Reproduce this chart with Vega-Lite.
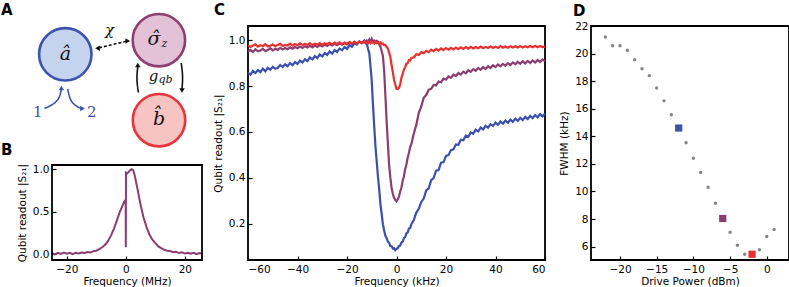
{
  "$schema": "https://vega.github.io/schema/vega-lite/v6.json",
  "padding": {"left": 0, "top": 1, "right": 0, "bottom": 0},
  "autosize": {"type": "pad"},
  "bounds": "flush",
  "spacing": 46,
  "resolve": {"scale": {"color": "independent", "fill": "independent", "stroke": "independent", "shape": "independent", "strokeDash": "independent"}},
  "hconcat": [
    {
      "width": 150,
      "height": 234,
      "view": {"stroke": null},
      "resolve": {"scale": {"x": "independent", "y": "independent"}, "axis": {"x": "independent", "y": "independent"}},
      "layer": [
        {
          "encoding": {
            "x": {"field": "f", "type": "quantitative", "scale": {"domain": [-25, 25.8], "nice": false, "zero": false}, "axis": {"values": [-20, 0, 20], "title": "Frequency (MHz)"}},
            "y": {"field": "v", "type": "quantitative", "scale": {"domain": [-0.07, 1.05], "range": [234, 139], "nice": false, "zero": false}, "axis": {"values": [0, 0.5, 1], "format": ".1f", "title": "Qubit readout |S₂₁|", "titleY": 186.5}}
          },
          "layer": [
            {
              "data": {"values": [
                {"f": -25, "v": 0.012}, {"f": -24, "v": -0.004}, {"f": -23, "v": 0.015}, {"f": -22, "v": 0.002}, {"f": -21, "v": 0.018},
                {"f": -20, "v": 0.005}, {"f": -19, "v": 0.014}, {"f": -18, "v": -0.002}, {"f": -17, "v": 0.016}, {"f": -16, "v": 0.008},
                {"f": -15, "v": 0.019}, {"f": -14, "v": 0.012}, {"f": -13, "v": 0.025}, {"f": -12, "v": 0.02}, {"f": -11, "v": 0.034},
                {"f": -10, "v": 0.04}, {"f": -9, "v": 0.058}, {"f": -8, "v": 0.08}, {"f": -7, "v": 0.11}, {"f": -6, "v": 0.155},
                {"f": -5, "v": 0.22}, {"f": -4, "v": 0.30}, {"f": -3, "v": 0.40}, {"f": -2, "v": 0.50}, {"f": -1, "v": 0.58},
                {"f": -0.5, "v": 0.62}, {"f": -0.05, "v": 0.64}, {"f": 0, "v": 0.08}, {"f": 0.05, "v": 0.96}, {"f": 0.5, "v": 0.95},
                {"f": 1, "v": 0.97}, {"f": 1.5, "v": 0.99}, {"f": 2, "v": 1.0}, {"f": 2.5, "v": 0.99}, {"f": 3, "v": 0.93},
                {"f": 4, "v": 0.76}, {"f": 5, "v": 0.58}, {"f": 6, "v": 0.43}, {"f": 7, "v": 0.32}, {"f": 8, "v": 0.23},
                {"f": 9, "v": 0.17}, {"f": 10, "v": 0.13}, {"f": 11, "v": 0.09}, {"f": 12, "v": 0.07}, {"f": 13, "v": 0.05},
                {"f": 14, "v": 0.04}, {"f": 15, "v": 0.035}, {"f": 16, "v": 0.022}, {"f": 17, "v": 0.028}, {"f": 18, "v": 0.012},
                {"f": 19, "v": 0.02}, {"f": 20, "v": 0.006}, {"f": 21, "v": 0.015}, {"f": 22, "v": 0.003}, {"f": 23, "v": 0.014},
                {"f": 24, "v": 0.0}, {"f": 25, "v": 0.012}, {"f": 25.8, "v": 0.005}
              ]},
              "mark": {"type": "line", "color": "#8c3d70", "strokeWidth": 2}
            },
            {
              "data": {"values": [{"f": -25, "f2": 25.8, "v": -0.07, "v2": 1.05}]},
              "mark": {"type": "rect", "filled": false, "stroke": "#000000", "strokeWidth": 1.8},
              "encoding": {"x2": {"field": "f2"}, "y2": {"field": "v2"}}
            }
          ]
        },
        {
          "encoding": {
            "x": {"field": "x", "type": "quantitative", "scale": {"domain": [51, 201], "nice": false, "zero": false}, "axis": null},
            "y": {"field": "y", "type": "quantitative", "scale": {"domain": [25, 259], "reverse": true, "nice": false, "zero": false}, "axis": null}
          },
          "layer": [
            {
              "data": {"values": [
                {"id": "chi", "o": 0, "x": 98, "y": 46.8}, {"id": "chi", "o": 1, "x": 125, "y": 40.3},
                {"id": "up", "o": 0, "x": 137.4, "y": 91.5}, {"id": "up", "o": 1, "x": 135.4, "y": 78}, {"id": "up", "o": 2, "x": 136.8, "y": 65.5},
                {"id": "down", "o": 0, "x": 180.2, "y": 62}, {"id": "down", "o": 1, "x": 182, "y": 75}, {"id": "down", "o": 2, "x": 181, "y": 88},
                {"id": "in", "o": 0, "x": 43.5, "y": 107.5}, {"id": "in", "o": 1, "x": 57.5, "y": 101}, {"id": "in", "o": 2, "x": 60.3, "y": 89},
                {"id": "out", "o": 0, "x": 66.7, "y": 88}, {"id": "out", "o": 1, "x": 69.5, "y": 102}, {"id": "out", "o": 2, "x": 79.5, "y": 107.3}
              ]},
              "mark": {"type": "line", "strokeWidth": 1.6, "interpolate": "basis"},
              "encoding": {
                "detail": {"field": "id"},
                "order": {"field": "o", "type": "quantitative"},
                "color": {"field": "id", "type": "nominal", "scale": {"domain": ["chi", "up", "down", "in", "out"], "range": ["#111111", "#111111", "#111111", "#3c55ab", "#3c55ab"]}, "legend": null},
                "strokeDash": {"field": "id", "type": "nominal", "scale": {"domain": ["chi", "up", "down", "in", "out"], "range": [[3, 2], [1, 0], [1, 0], [1, 0], [1, 0]]}, "legend": null}
              }
            },
            {
              "data": {"values": [
                {"id": "chi", "h": "left", "x": 96.5, "y": 47.2},
                {"id": "chi", "h": "right", "x": 126.8, "y": 39.9},
                {"id": "up", "h": "up", "x": 136.8, "y": 64},
                {"id": "down", "h": "down", "x": 181, "y": 89.5},
                {"id": "in", "h": "up", "x": 60.4, "y": 87},
                {"id": "out", "h": "right", "x": 81.5, "y": 107.5}
              ]},
              "mark": {"type": "point", "filled": true, "size": 30, "opacity": 1},
              "encoding": {
                "color": {"field": "id", "type": "nominal", "legend": null},
                "shape": {"field": "h", "type": "nominal", "scale": {"domain": ["up", "down", "left", "right"], "range": ["triangle-up", "triangle-down", "triangle-left", "triangle-right"]}, "legend": null}
              }
            },
            {
              "data": {"values": [
                {"node": "a", "x": 64.3, "y": 53.3},
                {"node": "sigma", "x": 157.9, "y": 39.2},
                {"node": "b", "x": 158, "y": 119.2}
              ]},
              "mark": {"type": "point", "shape": "circle", "size": 2750, "strokeWidth": 2.6, "opacity": 1, "fillOpacity": 1},
              "encoding": {
                "fill": {"field": "node", "type": "nominal", "scale": {"domain": ["a", "sigma", "b"], "range": ["#c6d3ef", "#e3c1d6", "#f7c3c3"]}, "legend": null},
                "stroke": {"field": "node", "type": "nominal", "scale": {"domain": ["a", "sigma", "b"], "range": ["#3c55ab", "#8d3f6e", "#e8353b"]}, "legend": null}
              }
            },
            {
              "data": {"values": [
                {"t": "â", "x": 64.3, "y": 53},
                {"t": "σ̂", "x": 153, "y": 38},
                {"t": "b̂", "x": 158, "y": 118}
              ]},
              "mark": {"type": "text", "font": "DejaVu Serif", "fontStyle": "italic", "fontSize": 19, "align": "center", "baseline": "middle", "color": "#111111"},
              "encoding": {"text": {"field": "t"}}
            },
            {
              "data": {"values": [
                {"t": "z", "x": 160.5, "y": 45.5},
                {"t": "qb", "x": 157.5, "y": 81.5}
              ]},
              "mark": {"type": "text", "font": "DejaVu Serif", "fontStyle": "italic", "fontSize": 11, "align": "left", "baseline": "alphabetic", "color": "#111111"},
              "encoding": {"text": {"field": "t"}}
            },
            {
              "data": {"values": [
                {"t": "χ", "x": 108.5, "y": 34},
                {"t": "g", "x": 152.5, "y": 79.5}
              ]},
              "mark": {"type": "text", "font": "DejaVu Serif", "fontStyle": "italic", "fontSize": 15, "align": "center", "baseline": "alphabetic", "color": "#111111"},
              "encoding": {"text": {"field": "t"}}
            },
            {
              "data": {"values": [
                {"t": "1", "x": 36.7, "y": 111},
                {"t": "2", "x": 90.7, "y": 111}
              ]},
              "mark": {"type": "text", "font": "DejaVu Serif", "fontSize": 15, "align": "center", "baseline": "middle", "color": "#3c55ab"},
              "encoding": {"text": {"field": "t"}}
            },
            {
              "data": {"values": [{"t": "A", "x": 0, "y": 13.5}, {"t": "B", "x": 0, "y": 154}]},
              "mark": {"type": "text", "font": "DejaVu Sans", "fontWeight": "bold", "fontSize": 15, "align": "left", "baseline": "alphabetic", "color": "#000000"},
              "encoding": {"text": {"field": "t"}}
            }
          ]
        }
      ]
    },
    {
      "width": 297,
      "height": 234,
      "title": {"text": "C", "dx": -34, "offset": 8.5},
      "data": {"values": [
        {"f": -60, "b": 0.858, "p": 0.950, "r": 0.979}, {"f": -59, "b": 0.850, "p": 0.958, "r": 0.971},
        {"f": -58, "b": 0.866, "p": 0.949, "r": 0.977}, {"f": -57, "b": 0.857, "p": 0.961, "r": 0.982},
        {"f": -56, "b": 0.870, "p": 0.952, "r": 0.972}, {"f": -55, "b": 0.861, "p": 0.955, "r": 0.978},
        {"f": -54, "b": 0.876, "p": 0.962, "r": 0.974}, {"f": -53, "b": 0.865, "p": 0.953, "r": 0.983},
        {"f": -52, "b": 0.880, "p": 0.957, "r": 0.973}, {"f": -51, "b": 0.871, "p": 0.965, "r": 0.976},
        {"f": -50, "b": 0.884, "p": 0.956, "r": 0.981}, {"f": -49, "b": 0.876, "p": 0.963, "r": 0.974},
        {"f": -48, "b": 0.879, "p": 0.958, "r": 0.979}, {"f": -47, "b": 0.892, "p": 0.967, "r": 0.984},
        {"f": -46, "b": 0.883, "p": 0.960, "r": 0.975}, {"f": -45, "b": 0.895, "p": 0.966, "r": 0.980},
        {"f": -44, "b": 0.887, "p": 0.961, "r": 0.977}, {"f": -43, "b": 0.900, "p": 0.969, "r": 0.985},
        {"f": -42, "b": 0.891, "p": 0.963, "r": 0.976}, {"f": -41, "b": 0.905, "p": 0.970, "r": 0.983},
        {"f": -40, "b": 0.897, "p": 0.965, "r": 0.978}, {"f": -39, "b": 0.911, "p": 0.972, "r": 0.986},
        {"f": -38, "b": 0.903, "p": 0.966, "r": 0.979}, {"f": -37, "b": 0.917, "p": 0.974, "r": 0.984},
        {"f": -36, "b": 0.909, "p": 0.968, "r": 0.980}, {"f": -35, "b": 0.925, "p": 0.976, "r": 0.987},
        {"f": -34, "b": 0.916, "p": 0.969, "r": 0.979}, {"f": -33, "b": 0.931, "p": 0.977, "r": 0.985},
        {"f": -32, "b": 0.922, "p": 0.971, "r": 0.981}, {"f": -31, "b": 0.938, "p": 0.979, "r": 0.988},
        {"f": -30, "b": 0.929, "p": 0.973, "r": 0.980}, {"f": -29, "b": 0.944, "p": 0.981, "r": 0.987},
        {"f": -28, "b": 0.936, "p": 0.975, "r": 0.983}, {"f": -27, "b": 0.951, "p": 0.983, "r": 0.989},
        {"f": -26, "b": 0.942, "p": 0.977, "r": 0.982}, {"f": -25, "b": 0.957, "p": 0.984, "r": 0.990},
        {"f": -24, "b": 0.949, "p": 0.978, "r": 0.984}, {"f": -23, "b": 0.964, "p": 0.986, "r": 0.991},
        {"f": -22, "b": 0.956, "p": 0.980, "r": 0.983}, {"f": -21, "b": 0.970, "p": 0.988, "r": 0.990},
        {"f": -20, "b": 0.962, "p": 0.982, "r": 0.985}, {"f": -19, "b": 0.978, "p": 0.990, "r": 0.992},
        {"f": -18, "b": 0.971, "p": 0.984, "r": 0.986}, {"f": -17, "b": 0.986, "p": 0.992, "r": 0.993},
        {"f": -16, "b": 0.981, "p": 0.985, "r": 0.986}, {"f": -15, "b": 0.995, "p": 0.994, "r": 0.993},
        {"f": -14, "b": 0.988, "p": 0.988, "r": 0.987}, {"f": -13, "b": 0.999, "p": 0.996, "r": 0.994},
        {"f": -12.5, "b": 0.992, "p": 0.990, "r": 0.987}, {"f": -12, "b": 0.988, "p": 0.998, "r": 0.994},
        {"f": -11.5, "b": 0.962, "p": 0.991, "r": 0.988}, {"f": -11, "b": 0.944, "p": 1.003, "r": 0.993},
        {"f": -10.5, "b": 0.886, "p": 0.992, "r": 0.987}, {"f": -10, "b": 0.823, "p": 1.006, "r": 0.994},
        {"f": -9.5, "b": 0.717, "p": 0.993, "r": 0.990}, {"f": -9, "b": 0.624, "p": 0.998, "r": 0.986},
        {"f": -8.5, "b": 0.537, "p": 0.992, "r": 0.993}, {"f": -8, "b": 0.472, "p": 0.997, "r": 0.988},
        {"f": -7.5, "b": 0.406, "p": 0.994, "r": 0.992}, {"f": -7, "b": 0.352, "p": 0.983, "r": 0.987},
        {"f": -6.5, "b": 0.287, "p": 0.972, "r": 0.991}, {"f": -6, "b": 0.243, "p": 0.953, "r": 0.983},
        {"f": -5.5, "b": 0.198, "p": 0.931, "r": 0.985}, {"f": -5, "b": 0.172, "p": 0.868, "r": 0.978},
        {"f": -4.5, "b": 0.147, "p": 0.762, "r": 0.979}, {"f": -4, "b": 0.138, "p": 0.648, "r": 0.970},
        {"f": -3.5, "b": 0.122, "p": 0.553, "r": 0.965}, {"f": -3, "b": 0.117, "p": 0.458, "r": 0.946},
        {"f": -2.5, "b": 0.103, "p": 0.402, "r": 0.927}, {"f": -2, "b": 0.102, "p": 0.358, "r": 0.893},
        {"f": -1.5, "b": 0.092, "p": 0.332, "r": 0.862}, {"f": -1, "b": 0.093, "p": 0.313, "r": 0.828},
        {"f": -0.5, "b": 0.085, "p": 0.304, "r": 0.807}, {"f": 0, "b": 0.091, "p": 0.298, "r": 0.788},
        {"f": 0.5, "b": 0.093, "p": 0.307, "r": 0.787}, {"f": 1, "b": 0.103, "p": 0.318, "r": 0.792},
        {"f": 1.5, "b": 0.105, "p": 0.342, "r": 0.808}, {"f": 2, "b": 0.118, "p": 0.358, "r": 0.837},
        {"f": 2.5, "b": 0.122, "p": 0.388, "r": 0.853}, {"f": 3, "b": 0.138, "p": 0.407, "r": 0.873},
        {"f": 3.5, "b": 0.142, "p": 0.438, "r": 0.882}, {"f": 4, "b": 0.158, "p": 0.457, "r": 0.898},
        {"f": 4.5, "b": 0.162, "p": 0.488, "r": 0.900}, {"f": 5, "b": 0.179, "p": 0.507, "r": 0.913},
        {"f": 5.5, "b": 0.181, "p": 0.534, "r": 0.912}, {"f": 6, "b": 0.198, "p": 0.547, "r": 0.923},
        {"f": 7, "b": 0.216, "p": 0.594, "r": 0.925}, {"f": 8, "b": 0.249, "p": 0.631, "r": 0.939},
        {"f": 9, "b": 0.265, "p": 0.684, "r": 0.936}, {"f": 10, "b": 0.295, "p": 0.711, "r": 0.948},
        {"f": 11, "b": 0.310, "p": 0.749, "r": 0.943}, {"f": 12, "b": 0.345, "p": 0.761, "r": 0.954},
        {"f": 13, "b": 0.354, "p": 0.784, "r": 0.948}, {"f": 14, "b": 0.390, "p": 0.788, "r": 0.959},
        {"f": 15, "b": 0.399, "p": 0.805, "r": 0.952}, {"f": 16, "b": 0.431, "p": 0.803, "r": 0.962},
        {"f": 17, "b": 0.434, "p": 0.820, "r": 0.955}, {"f": 18, "b": 0.466, "p": 0.817, "r": 0.964},
        {"f": 19, "b": 0.469, "p": 0.833, "r": 0.957}, {"f": 20, "b": 0.496, "p": 0.828, "r": 0.966},
        {"f": 21, "b": 0.499, "p": 0.842, "r": 0.959}, {"f": 22, "b": 0.521, "p": 0.836, "r": 0.967},
        {"f": 23, "b": 0.524, "p": 0.850, "r": 0.960}, {"f": 24, "b": 0.546, "p": 0.844, "r": 0.968},
        {"f": 25, "b": 0.544, "p": 0.857, "r": 0.961}, {"f": 26, "b": 0.566, "p": 0.850, "r": 0.969},
        {"f": 27, "b": 0.564, "p": 0.863, "r": 0.962}, {"f": 28, "b": 0.584, "p": 0.856, "r": 0.970},
        {"f": 29, "b": 0.579, "p": 0.869, "r": 0.963}, {"f": 30, "b": 0.598, "p": 0.862, "r": 0.971},
        {"f": 31, "b": 0.592, "p": 0.874, "r": 0.964}, {"f": 32, "b": 0.610, "p": 0.867, "r": 0.970},
        {"f": 33, "b": 0.602, "p": 0.879, "r": 0.965}, {"f": 34, "b": 0.619, "p": 0.871, "r": 0.972},
        {"f": 35, "b": 0.611, "p": 0.883, "r": 0.965}, {"f": 36, "b": 0.627, "p": 0.875, "r": 0.971},
        {"f": 37, "b": 0.619, "p": 0.887, "r": 0.966}, {"f": 38, "b": 0.634, "p": 0.879, "r": 0.973},
        {"f": 39, "b": 0.626, "p": 0.891, "r": 0.966}, {"f": 40, "b": 0.641, "p": 0.883, "r": 0.972},
        {"f": 41, "b": 0.631, "p": 0.894, "r": 0.966}, {"f": 42, "b": 0.646, "p": 0.886, "r": 0.974},
        {"f": 43, "b": 0.636, "p": 0.897, "r": 0.967}, {"f": 44, "b": 0.650, "p": 0.889, "r": 0.973},
        {"f": 45, "b": 0.640, "p": 0.900, "r": 0.967}, {"f": 46, "b": 0.654, "p": 0.892, "r": 0.974},
        {"f": 47, "b": 0.644, "p": 0.903, "r": 0.968}, {"f": 48, "b": 0.658, "p": 0.895, "r": 0.974},
        {"f": 49, "b": 0.648, "p": 0.906, "r": 0.968}, {"f": 50, "b": 0.662, "p": 0.897, "r": 0.975},
        {"f": 51, "b": 0.652, "p": 0.908, "r": 0.968}, {"f": 52, "b": 0.666, "p": 0.899, "r": 0.974},
        {"f": 53, "b": 0.656, "p": 0.910, "r": 0.969}, {"f": 54, "b": 0.670, "p": 0.901, "r": 0.975},
        {"f": 55, "b": 0.660, "p": 0.912, "r": 0.969}, {"f": 56, "b": 0.674, "p": 0.903, "r": 0.976},
        {"f": 57, "b": 0.664, "p": 0.914, "r": 0.969}, {"f": 58, "b": 0.678, "p": 0.905, "r": 0.975},
        {"f": 59, "b": 0.668, "p": 0.916, "r": 0.970}, {"f": 60, "b": 0.680, "p": 0.909, "r": 0.972}
      ]},
      "transform": [{"fold": ["b", "p", "r"], "as": ["series", "v"]}],
      "mark": {"type": "line", "strokeWidth": 2.2},
      "encoding": {
        "x": {"field": "f", "type": "quantitative", "scale": {"domain": [-60, 60], "nice": false, "zero": false}, "axis": {"values": [-60, -40, -20, 0, 20, 40, 60], "title": "Frequency (kHz)"}},
        "y": {"field": "v", "type": "quantitative", "scale": {"domain": [0.042, 1.062], "nice": false, "zero": false}, "axis": {"values": [0.2, 0.4, 0.6, 0.8, 1.0], "format": ".1f", "title": "Qubit readout |S₂₁|"}},
        "color": {"field": "series", "type": "nominal", "scale": {"domain": ["b", "p", "r"], "range": ["#3a4fb0", "#8c3d70", "#e8312f"]}, "legend": null}
      }
    },
    {
      "width": 198,
      "height": 234,
      "title": {"text": "D", "dx": -18, "offset": 2},
      "encoding": {
        "x": {"field": "p", "type": "quantitative", "scale": {"domain": [-23.95, 3.03], "nice": false, "zero": false}, "axis": {"values": [-20, -15, -10, -5, 0], "title": "Drive Power (dBm)"}},
        "y": {"field": "w", "type": "quantitative", "scale": {"domain": [5.03, 22], "nice": false, "zero": false}, "axis": {"values": [6, 8, 10, 12, 14, 16, 18, 20, 22], "title": "FWHM (kHz)"}}
      },
      "layer": [
        {
          "data": {"values": [
            {"p": -22, "w": 21.2}, {"p": -21, "w": 20.57}, {"p": -20, "w": 20.57}, {"p": -19, "w": 20.24},
            {"p": -18, "w": 19.56}, {"p": -17, "w": 18.9}, {"p": -16, "w": 18.4}, {"p": -15, "w": 17.5},
            {"p": -14, "w": 16.57}, {"p": -13, "w": 15.57}, {"p": -11, "w": 13.54}, {"p": -10, "w": 12.41},
            {"p": -9, "w": 11.37}, {"p": -8, "w": 10.31}, {"p": -7, "w": 9.15}, {"p": -5, "w": 7.05},
            {"p": -4, "w": 6.1}, {"p": -3, "w": 5.45}, {"p": -1, "w": 5.77}, {"p": 0, "w": 6.74}, {"p": 1, "w": 7.24}
          ]},
          "mark": {"type": "point", "filled": true, "shape": "circle", "size": 12, "color": "#858585", "opacity": 1}
        },
        {
          "data": {"values": [
            {"p": -12, "w": 14.6, "s": "b"},
            {"p": -6, "w": 8.04, "s": "p"},
            {"p": -2, "w": 5.45, "s": "r"}
          ]},
          "mark": {"type": "point", "filled": true, "shape": "square", "size": 52, "opacity": 1},
          "encoding": {
            "color": {"field": "s", "type": "nominal", "scale": {"domain": ["b", "p", "r"], "range": ["#3a54a8", "#8c3d6c", "#e8302f"]}, "legend": null}
          }
        }
      ]
    }
  ],
  "config": {
    "font": "DejaVu Sans",
    "view": {"stroke": "#000000", "strokeWidth": 1.8},
    "axis": {
      "grid": false,
      "domain": false,
      "tickSize": -4,
      "tickColor": "#000000",
      "tickWidth": 1.2,
      "labelFont": "DejaVu Sans",
      "labelFontSize": 10.5,
      "labelColor": "#000000",
      "titleFont": "DejaVu Sans",
      "titleFontSize": 10.5,
      "titleFontWeight": "normal",
      "titleColor": "#000000"
    },
    "axisX": {"labelPadding": 8, "titlePadding": 2},
    "axisY": {"labelPadding": 7, "titlePadding": 5},
    "title": {"font": "DejaVu Sans", "fontSize": 15, "fontWeight": "bold", "anchor": "start", "frame": "group", "baseline": "alphabetic", "color": "#000000"}
  }
}
